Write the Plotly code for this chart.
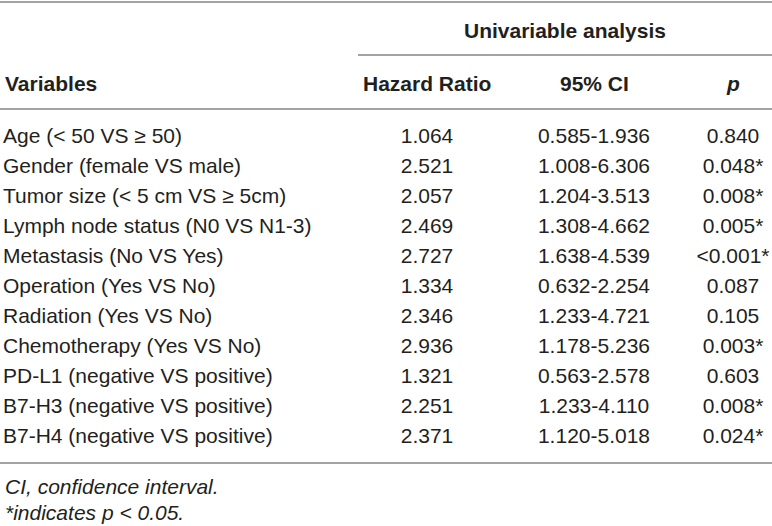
import plotly.graph_objects as go

variables = [
    "Age (< 50 VS \u2265 50)",
    "Gender (female VS male)",
    "Tumor size (< 5 cm VS \u2265 5cm)",
    "Lymph node status (N0 VS N1-3)",
    "Metastasis (No VS Yes)",
    "Operation (Yes VS No)",
    "Radiation (Yes VS No)",
    "Chemotherapy (Yes VS No)",
    "PD-L1 (negative VS positive)",
    "B7-H3 (negative VS positive)",
    "B7-H4 (negative VS positive)",
]
hazard_ratio = ["1.064", "2.521", "2.057", "2.469", "2.727", "1.334",
                "2.346", "2.936", "1.321", "2.251", "2.371"]
ci_95 = ["0.585-1.936", "1.008-6.306", "1.204-3.513", "1.308-4.662",
         "1.638-4.539", "0.632-2.254", "1.233-4.721", "1.178-5.236",
         "0.563-2.578", "1.233-4.110", "1.120-5.018"]
p_values = ["0.840", "0.048*", "0.008*", "0.005*", "<0.001*", "0.087",
            "0.105", "0.003*", "0.603", "0.008*", "0.024*"]
headers = ["Variables", "Hazard Ratio", "95% CI", "p"]
group_header = "Univariable analysis"
footnotes = ["CI, confidence interval.", "*indicates p < 0.05."]

W, H = 772, 526
FONT = "Liberation Sans"
FS = 21
TXT = "#231f20"
LINE = "#a3a3a3"
row0, row_h = 138, 30
col_x = [3, 427, 594, 733]

rows_y = [row0 + i * row_h for i in range(len(variables))]

fig = go.Figure()
fig.add_trace(go.Scatter(x=[col_x[0]] * len(variables), y=rows_y, text=variables,
                         mode="text", textposition="middle right"))
for cx, col in zip(col_x[1:], [hazard_ratio, ci_95, p_values]):
    fig.add_trace(go.Scatter(x=[cx] * len(col), y=rows_y, text=col,
                             mode="text", textposition="middle center"))
fig.update_traces(textfont=dict(family=FONT, size=FS, color=TXT),
                  hoverinfo="skip", showlegend=False)

annots = [dict(x=565, y=30, text="<b>%s</b>" % group_header)]
annots.append(dict(x=col_x[0], y=83, text="<b>%s</b>" % headers[0], xanchor="left"))
for cx, h in zip(col_x[1:], headers[1:]):
    t = "<b><i>%s</i></b>" % h if h == "p" else "<b>%s</b>" % h
    annots.append(dict(x=cx, y=83, text=t))
annots.append(dict(x=col_x[0], y=486, text="<i>%s</i>" % footnotes[0], xanchor="left"))
annots.append(dict(x=col_x[0], y=512, text="<i>%s</i>" % footnotes[1], xanchor="left"))
for a in annots:
    a.setdefault("xanchor", "center")
    a.update(xref="x", yref="y", showarrow=False, yanchor="middle",
             font=dict(family=FONT, size=FS, color=TXT))
fig.update_layout(annotations=annots)

# horizontal rules of the table
lines = [(0, W, 2), (358, W, 55), (0, W, 109), (0, W, 463)]
for x0, x1, y in lines:
    fig.add_shape(type="line", xref="x", yref="y", x0=x0, x1=x1, y0=y, y1=y,
                  line=dict(color=LINE, width=2))

fig.update_layout(
    width=W, height=H, margin=dict(l=0, r=0, t=0, b=0),
    paper_bgcolor="white", plot_bgcolor="white",
    xaxis=dict(range=[0, W], visible=False, fixedrange=True),
    yaxis=dict(range=[H, 0], visible=False, fixedrange=True),
)
fig.write_html("out.html", config={"displayModeBar": False},
               post_script="document.body.style.margin='0';")
